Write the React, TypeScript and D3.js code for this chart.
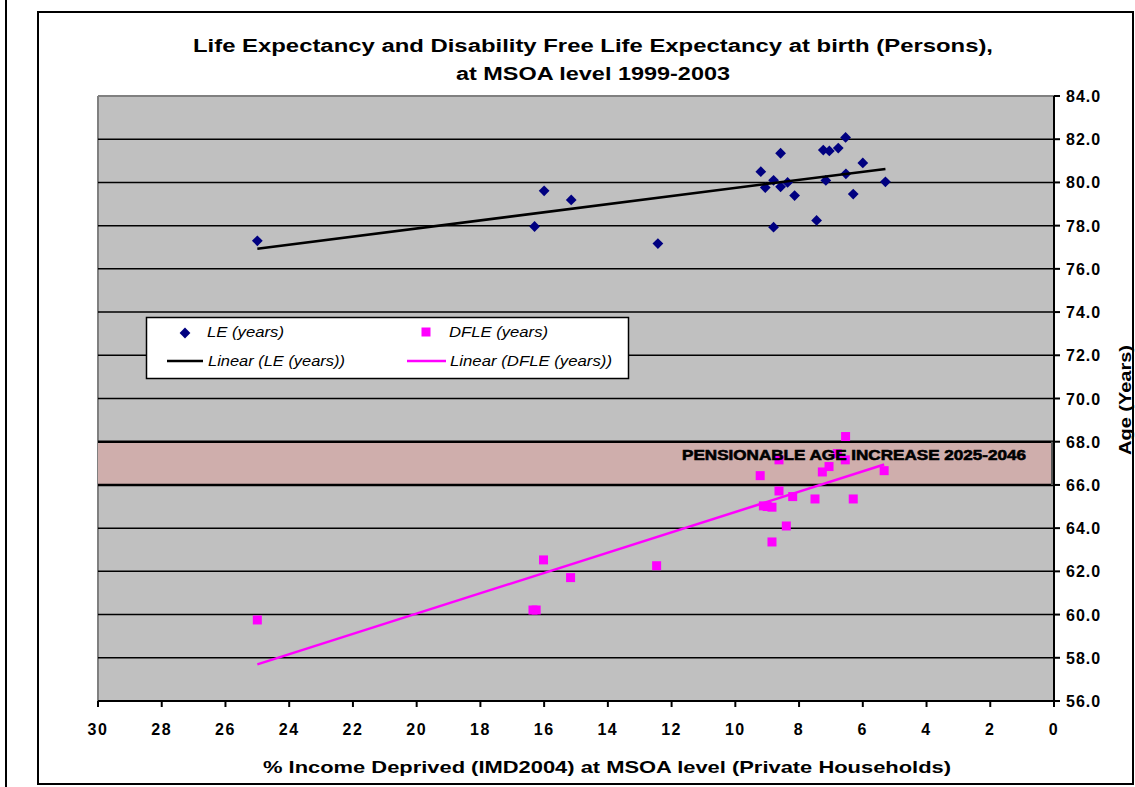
import React from "react";
import * as d3 from "d3";

// ---- Data ----
const leX = [25.0, 16.3, 16.0, 15.15, 12.43, 9.2, 9.06, 8.8, 8.8, 8.58, 8.58, 8.36, 8.14, 7.45, 7.24, 7.16, 7.05, 6.77, 6.54, 6.53, 6.3, 6.0, 5.29];
const leY = [77.3, 77.96, 79.61, 79.19, 77.17, 80.5, 79.76, 80.1, 77.93, 81.35, 79.8, 80.0, 79.39, 78.24, 81.5, 80.09, 81.46, 81.59, 82.08, 80.4, 79.46, 80.9, 80.03];

const dfleX = [25.0, 16.35, 16.25, 16.02, 15.17, 12.47, 9.22, 9.12, 9.0, 8.85, 8.85, 8.63, 8.63, 8.4, 8.2, 7.5, 7.27, 7.06, 6.8, 6.55, 6.54, 6.3, 5.33];
const dfleY = [59.75, 60.21, 60.21, 62.53, 61.71, 62.26, 66.43, 65.03, 65.0, 64.97, 63.36, 67.16, 65.72, 64.1, 65.46, 65.35, 66.6, 66.85, 67.45, 67.16, 68.24, 65.35, 66.66];

const xTicks = [30, 28, 26, 24, 22, 20, 18, 16, 14, 12, 10, 8, 6, 4, 2, 0];
const yTicks = [56, 58, 60, 62, 64, 66, 68, 70, 72, 74, 76, 78, 80, 82, 84];
const bandRange = [66, 68];
const bandLabel = "PENSIONABLE AGE INCREASE 2025-2046";
const titleLines = ["Life Expectancy and Disability Free Life Expectancy at birth (Persons),", "at MSOA level 1999-2003"];
const xTitle = "% Income Deprived (IMD2004) at MSOA level (Private Households)";
const yTitle = "Age (Years)";
const legendLabels = ["LE (years)", "DFLE (years)", "Linear (LE (years))", "Linear (DFLE (years))"];

const LE_COLOR = "#000080";
const DFLE_COLOR = "#FF00FF";

function linReg(xs: number[], ys: number[]) {
  const n = xs.length;
  const mx = d3.mean(xs)!;
  const my = d3.mean(ys)!;
  let sxy = 0, sxx = 0;
  for (let i = 0; i < n; i++) {
    sxy += (xs[i] - mx) * (ys[i] - my);
    sxx += (xs[i] - mx) * (xs[i] - mx);
  }
  const b = sxy / sxx;
  const a = my - b * mx;
  const x0 = d3.min(xs)!, x1 = d3.max(xs)!;
  return [[x1, a + b * x1], [x0, a + b * x0]];
}

export default function App() {
  const W = 1135, H = 787;
  const x = d3.scaleLinear().domain([30, 0]).range([98, 1054]);
  const y = d3.scaleLinear().domain([56, 84]).range([701, 96]);
  const line = d3.line<number[]>().x(d => x(d[0])).y(d => y(d[1]));
  const leTrend = linReg(leX, leY);
  const dfleTrend = linReg(dfleX, dfleY);
  const diamond = d3.symbol().type(d3.symbolSquare).size(58)()!;
  const font = "'Liberation Sans', Arial, sans-serif";
  const sq = 9;
  const legendW = [77, 99, 137, 162];

  return (
    <svg width={W} height={H} style={{ position: "absolute", left: 0, top: 0, background: "#fff" }} fontFamily={font}>
      {/* outer lines */}
      <line x1={6} x2={6} y1={0} y2={H} stroke="#000" strokeWidth={2} />
      <rect x={38} y={12} width={1095} height={772} fill="#fff" stroke="#000" strokeWidth={2} />

      {/* title */}
      {titleLines.map((t, i) => (
        <text key={i} x={593} y={52 + i * 28} textAnchor="middle" fontSize={18} fontWeight="bold"
          textLength={i === 0 ? 800 : 274} lengthAdjust="spacingAndGlyphs">{t}</text>
      ))}

      {/* plot area */}
      <rect x={x(30)} y={y(84)} width={x(0) - x(30)} height={y(56) - y(84)} fill="#C0C0C0" />
      <line x1={x(30)} x2={x(0)} y1={y(84)} y2={y(84)} stroke="#808080" strokeWidth={2} />
      <line x1={x(30)} x2={x(30)} y1={y(84)} y2={y(56)} stroke="#808080" strokeWidth={2} />
      {yTicks.filter(v => v > 56 && v < 84).map(v => (
        <line key={v} x1={x(30)} x2={x(0)} y1={y(v)} y2={y(v)} stroke="#000" strokeWidth={1.5} />
      ))}

      {/* pension band */}
      <rect x={x(30)} y={y(bandRange[1])} width={x(0) - x(30) - 2} height={y(bandRange[0]) - y(bandRange[1])}
        fill="#CFAEAC" />
      <line x1={x(30)} x2={x(0)} y1={y(bandRange[1])} y2={y(bandRange[1])} stroke="#000" strokeWidth={2.5} />
      <line x1={x(30)} x2={x(0)} y1={y(bandRange[0])} y2={y(bandRange[0])} stroke="#000" strokeWidth={2.5} />
      <line x1={x(0) - 2} x2={x(0) - 2} y1={y(bandRange[1])} y2={y(bandRange[0])} stroke="#555" strokeWidth={2} />

      {/* points */}
      {leX.map((v, i) => (
        <path key={"le" + i} d={diamond} transform={`translate(${x(v)},${y(leY[i])}) rotate(45)`} fill={LE_COLOR} />
      ))}
      {dfleX.map((v, i) => (
        <rect key={"df" + i} x={x(v) - sq / 2} y={y(dfleY[i]) - sq / 2} width={sq} height={sq} fill={DFLE_COLOR} />
      ))}

      {/* trend lines */}
      <path d={line(leTrend)!} stroke="#000" strokeWidth={2.5} fill="none" />
      <path d={line(dfleTrend)!} stroke={DFLE_COLOR} strokeWidth={2.5} fill="none" />

      {/* band label */}
      <text x={682} y={460} fontSize={15} fontWeight="bold" textLength={344} lengthAdjust="spacingAndGlyphs"
        stroke="#000" strokeWidth={0.6}>{bandLabel}</text>

      {/* axes */}
      <line x1={x(30)} x2={x(0) + 1} y1={y(56)} y2={y(56)} stroke="#000" strokeWidth={2} />
      <line x1={x(0)} x2={x(0)} y1={y(84)} y2={y(56)} stroke="#000" strokeWidth={2} />
      {xTicks.map(v => (
        <g key={v}>
          <line x1={x(v)} x2={x(v)} y1={y(56)} y2={y(56) + 6} stroke="#000" strokeWidth={2} />
          <text x={x(v)} y={735} textAnchor="middle" fontSize={16} fontWeight="bold" letterSpacing={1.5}>{v}</text>
        </g>
      ))}
      {yTicks.map(v => (
        <g key={v}>
          <line x1={x(0)} x2={x(0) + 6} y1={y(v)} y2={y(v)} stroke="#000" strokeWidth={2} />
          <text x={1066} y={y(v) + 6} fontSize={16} fontWeight="bold" letterSpacing={1}>{d3.format(".1f")(v)}</text>
        </g>
      ))}

      {/* axis titles */}
      <text x={607} y={773} textAnchor="middle" fontSize={17} fontWeight="bold" textLength={688}
        lengthAdjust="spacingAndGlyphs">{xTitle}</text>
      <text transform="translate(1131,400) rotate(-90)" textAnchor="middle" fontSize={17} fontWeight="bold"
        textLength={110} lengthAdjust="spacingAndGlyphs">{yTitle}</text>

      {/* legend */}
      <rect x={146.5} y={317.5} width={482} height={61} fill="#fff" stroke="#000" strokeWidth={1.5} />
      <path d={diamond} transform="translate(185,333) rotate(45)" fill={LE_COLOR} />
      <text x={207} y={337} fontSize={14} fontStyle="italic" textLength={legendW[0]} lengthAdjust="spacingAndGlyphs">{legendLabels[0]}</text>
      <rect x={426 - sq / 2} y={332 - sq / 2} width={sq} height={sq} fill={DFLE_COLOR} />
      <text x={449} y={337} fontSize={14} fontStyle="italic" textLength={legendW[1]} lengthAdjust="spacingAndGlyphs">{legendLabels[1]}</text>
      <line x1={167} x2={203} y1={361} y2={361} stroke="#000" strokeWidth={2.5} />
      <text x={208} y={366} fontSize={14} fontStyle="italic" textLength={legendW[2]} lengthAdjust="spacingAndGlyphs">{legendLabels[2]}</text>
      <line x1={407} x2={446} y1={361} y2={361} stroke={DFLE_COLOR} strokeWidth={2.5} />
      <text x={450} y={366} fontSize={14} fontStyle="italic" textLength={legendW[3]} lengthAdjust="spacingAndGlyphs">{legendLabels[3]}</text>
    </svg>
  );
}
